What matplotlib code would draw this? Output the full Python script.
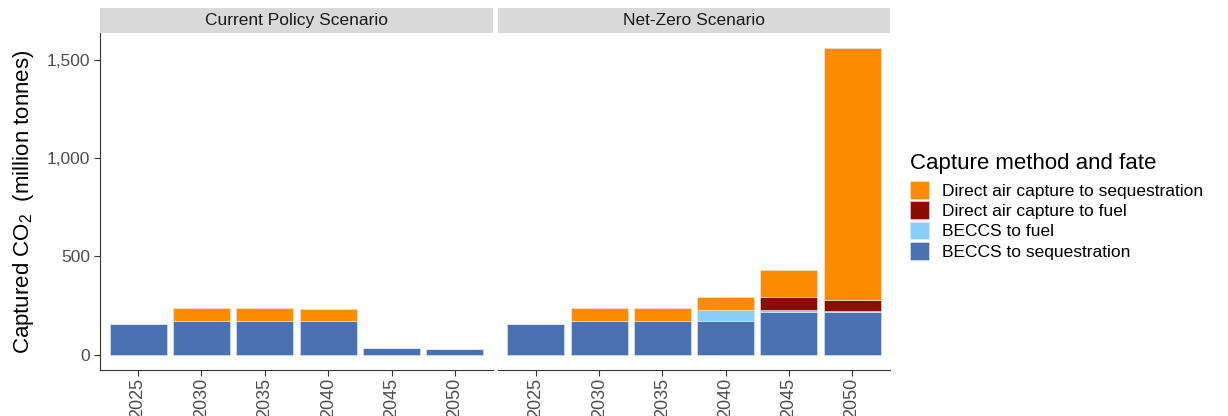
import numpy as np
import matplotlib
matplotlib.use("Agg")
import matplotlib.pyplot as plt
from matplotlib.patches import Patch, Rectangle

plt.rcParams['font.family'] = ['Liberation Sans', 'DejaVu Sans']
plt.rcParams['mathtext.fontset'] = 'custom'
plt.rcParams['mathtext.rm'] = 'Liberation Sans'
plt.rcParams['mathtext.it'] = 'Liberation Sans:italic'

years = ['2025', '2030', '2035', '2040', '2045', '2050']
scenarios = ['Current Policy Scenario', 'Net-Zero Scenario']

# stacking order bottom -> top
categories = ['BECCS to sequestration', 'BECCS to fuel',
              'Direct air capture to fuel', 'Direct air capture to sequestration']
colors = ['#4B72B0', '#87CEFA', '#8B0D00', '#FF8C00']

cps_beccs_seq = [157, 171, 171, 171, 32, 30]
cps_beccs_fuel = [0, 0, 0, 0, 0, 0]
cps_dac_fuel = [0, 0, 0, 0, 0, 0]
cps_dac_seq = [0, 66, 66, 61, 0, 0]

nz_beccs_seq = [157, 172, 172, 172, 215, 217]
nz_beccs_fuel = [0, 0, 0, 54, 10, 3]
nz_dac_fuel = [0, 0, 0, 0, 67, 58]
nz_dac_seq = [0, 68, 68, 66, 140, 1282]

data = {
    'Current Policy Scenario': [cps_beccs_seq, cps_beccs_fuel, cps_dac_fuel, cps_dac_seq],
    'Net-Zero Scenario': [nz_beccs_seq, nz_beccs_fuel, nz_dac_fuel, nz_dac_seq],
}

W, H = 1228, 416
fig = plt.figure(figsize=(W / 100, H / 100), dpi=100)

panels = [(100, 493), (498, 890)]
top_px, bot_px = 33, 370
strip_h = 25
tick_color = '#4D4D4D'

x = np.arange(len(years))
for i, (scen, (l, r)) in enumerate(zip(scenarios, panels)):
    ax = fig.add_axes([l / W, 1 - bot_px / H, (r - l) / W, (bot_px - top_px) / H])
    bottom = np.zeros(len(years))
    for vals, c in zip(data[scen], colors):
        vals = np.array(vals, dtype=float)
        ax.bar(x, vals, width=0.9, bottom=bottom, color=c,
               edgecolor='#DDEBF7', linewidth=0.4)
        bottom += vals
    ax.set_xlim(-0.6, 5.6)
    ax.set_ylim(-78, 1638)
    ax.set_xticks(x)
    ax.set_xticklabels(years, rotation=90, fontsize=13, color=tick_color)
    ax.set_yticks([0, 500, 1000, 1500])
    ax.set_yticklabels(['0', '500', '1,000', '1,500'], fontsize=12.5, color=tick_color)
    ax.tick_params(axis='both', length=4, width=0.8, color='#333333', pad=3)
    ax.tick_params(axis='x', pad=1.5)
    for s in ['top', 'right']:
        ax.spines[s].set_visible(False)
    ax.spines['bottom'].set_color('#333333')
    ax.spines['left'].set_color('#333333')
    if i == 1:
        ax.spines['left'].set_visible(False)
        ax.tick_params(axis='y', left=False, labelleft=False)
    else:
        ax.set_ylabel('Captured CO$_\\mathrm{2}$  (million tonnes)', fontsize=16,
                      color='black', labelpad=8)
    # facet strip
    fig.patches.append(Rectangle((l / W, 1 - top_px / H), (r - l) / W, strip_h / H,
                                 transform=fig.transFigure, facecolor='#D9D9D9',
                                 edgecolor='none'))
    fig.text((l + r) / 2 / W, 1 - (top_px - strip_h / 2) / H, scen,
             ha='center', va='center', fontsize=12.5, color='#1A1A1A')

handles = [Patch(facecolor=c, edgecolor='#DDEBF7', linewidth=0.4, label=lab)
           for c, lab in zip(colors[::-1], categories[::-1])]
leg = fig.legend(handles=handles, loc='upper left', bbox_to_anchor=(903 / W, 1 - 146 / H),
                 frameon=False, fontsize=12.5, title='Capture method and fate',
                 title_fontsize=16, handlelength=1.1, handleheight=1.2,
                 handletextpad=0.75, labelspacing=0.15, borderaxespad=0)
leg._legend_box.align = 'left'
leg._legend_box.sep = 5

fig.savefig('out.png', dpi=100)
